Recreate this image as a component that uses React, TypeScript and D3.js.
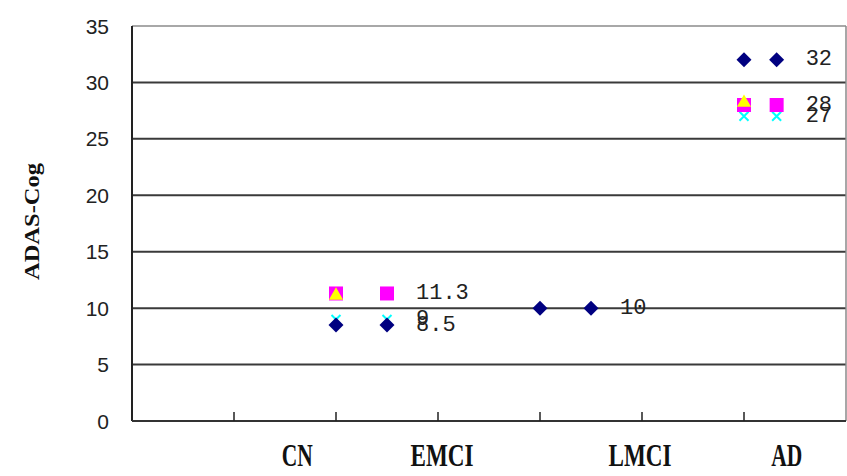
import React from "react";
import * as d3 from "d3";

const yTicks = [0, 5, 10, 15, 20, 25, 30, 35];
const xTicks = [1, 2, 3, 4, 5, 6];
const categories = ["CN", "EMCI", "LMCI", "AD"];
const categoryPos = [1.62, 3.04, 4.98, 6.42];

const diamondX = [2, 2.5, 4, 4.5, 6, 6.32];
const diamondY = [8.5, 8.5, 10, 10, 32, 32];
const diamondLabel = [false, true, false, true, false, true];

const squareX = [2, 2.5, 6, 6.32];
const squareY = [11.3, 11.3, 28, 28];
const squareLabel = [false, true, false, true];

const triangleX = [2, 6];
const triangleY = [11.2, 28.3];

const crossX = [2, 2.5, 6, 6.32];
const crossY = [9, 9, 27, 27];
const crossLabel = [false, true, false, true];

const W = 847;
const H = 476;

export default function App() {
  const x = d3.scaleLinear().domain([0, 7]).range([132, 846]);
  const y = d3.scaleLinear().domain([0, 35]).range([421, 26]);

  const diamondPath = d3.symbol(d3.symbolSquare, 112)()!;
  const squarePath = d3.symbol(d3.symbolSquare, 196)()!;
  const trianglePath = d3.symbol(d3.symbolTriangle, 88)()!;

  const labelFont = "'Liberation Mono', 'DejaVu Sans Mono', monospace";
  const labelOffset = 29;

  return (
    <svg
      width={W}
      height={H}
      style={{ position: "absolute", left: 0, top: 0, background: "#fff" }}
    >
      {yTicks
        .filter((t) => t > 0 && t < 35)
        .map((t) => (
          <line
            key={"g" + t}
            x1={x(0)}
            x2={x(7)}
            y1={y(t)}
            y2={y(t)}
            stroke="#3a3a3a"
            strokeWidth={2}
          />
        ))}
      <line x1={x(0)} x2={x(7)} y1={y(35)} y2={y(35)} stroke="#a8a8a8" strokeWidth={2} />
      <line x1={x(7)} x2={x(7)} y1={y(35)} y2={y(0)} stroke="#8a8a8a" strokeWidth={1.5} />
      <line x1={x(0)} x2={x(0)} y1={y(35)} y2={y(0)} stroke="#222" strokeWidth={2} />
      <line x1={x(0)} x2={x(7)} y1={y(0)} y2={y(0)} stroke="#333" strokeWidth={2} />
      {xTicks.map((t) => (
        <line
          key={"xt" + t}
          x1={x(t)}
          x2={x(t)}
          y1={y(0)}
          y2={y(0) - 9}
          stroke="#222"
          strokeWidth={1.5}
        />
      ))}
      {yTicks.map((t) => (
        <text
          key={"yl" + t}
          x={109}
          y={y(t)}
          textAnchor="end"
          dominantBaseline="central"
          fontFamily="'Liberation Sans', Arial, sans-serif"
          fontSize={21}
          fill="#222"
        >
          {t}
        </text>
      ))}
      <text
        transform={`translate(39,221.5) rotate(-90)`}
        textAnchor="middle"
        fontFamily="'Liberation Serif', serif"
        fontWeight="bold"
        fontSize={20}
        fill="#111"
        textLength={117}
        lengthAdjust="spacingAndGlyphs"
      >
        ADAS-Cog
      </text>
      {categories.map((c, i) => (
        <text
          key={"c" + c}
          x={x(categoryPos[i])}
          y={466}
          textAnchor="middle"
          fontFamily="'Liberation Serif', serif"
          fontWeight="bold"
          fontSize={31}
          fill="#111"
          textLength={c.length === 2 ? 31 : 63}
          lengthAdjust="spacingAndGlyphs"
        >
          {c}
        </text>
      ))}

      {crossX.map((v, i) => {
        const cx = x(v);
        const cy = y(crossY[i]);
        return (
          <path
            key={"x" + i}
            d={`M${cx - 4.5},${cy - 4.5}L${cx + 4.5},${cy + 4.5}M${cx - 4.5},${cy + 4.5}L${cx + 4.5},${cy - 4.5}`}
            stroke="#00ffff"
            strokeWidth={2}
          />
        );
      })}
      {squareX.map((v, i) => (
        <path
          key={"s" + i}
          d={squarePath}
          transform={`translate(${x(v)},${y(squareY[i])})`}
          fill="#ff00ff"
        />
      ))}
      {triangleX.map((v, i) => (
        <path
          key={"t" + i}
          d={trianglePath}
          transform={`translate(${x(v)},${y(triangleY[i]) + 1})`}
          fill="#ffff00"
        />
      ))}
      {diamondX.map((v, i) => (
        <path
          key={"d" + i}
          d={diamondPath}
          transform={`translate(${x(v)},${y(diamondY[i])}) rotate(45)`}
          fill="#000080"
        />
      ))}

      {crossX.map((v, i) =>
        crossLabel[i] ? (
          <text
            key={"xl" + i}
            x={x(v) + labelOffset}
            y={y(crossY[i])}
            dominantBaseline="central"
            fontFamily={labelFont}
            fontSize={22}
            fill="#222"
          >
            {crossY[i]}
          </text>
        ) : null
      )}
      {squareX.map((v, i) =>
        squareLabel[i] ? (
          <text
            key={"sl" + i}
            x={x(v) + labelOffset}
            y={y(squareY[i])}
            dominantBaseline="central"
            fontFamily={labelFont}
            fontSize={22}
            fill="#222"
          >
            {squareY[i]}
          </text>
        ) : null
      )}
      {diamondX.map((v, i) =>
        diamondLabel[i] ? (
          <text
            key={"dl" + i}
            x={x(v) + labelOffset}
            y={y(diamondY[i])}
            dominantBaseline="central"
            fontFamily={labelFont}
            fontSize={22}
            fill="#222"
          >
            {diamondY[i]}
          </text>
        ) : null
      )}
    </svg>
  );
}
